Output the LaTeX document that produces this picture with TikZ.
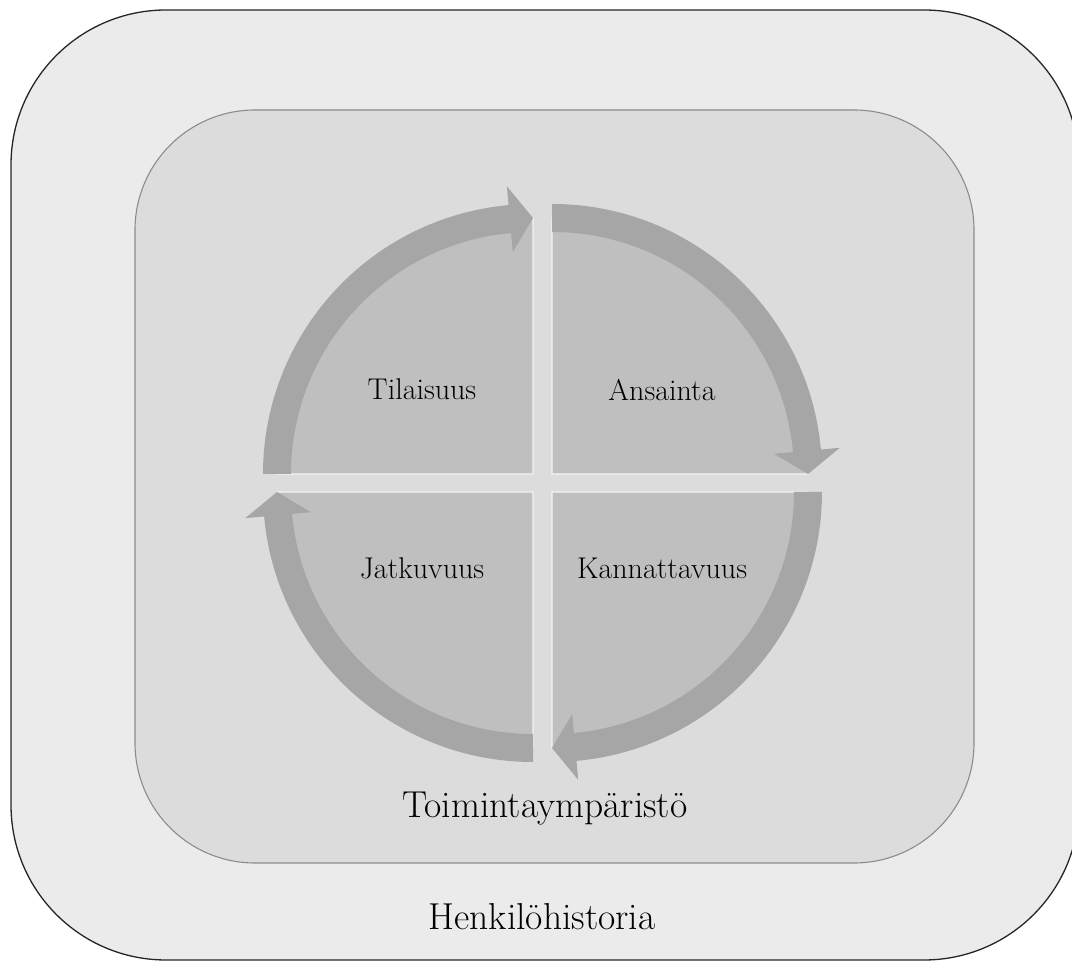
\documentclass[tikz,border=0pt]{standalone}
\definecolor{outerfill}{HTML}{EBEBEB}
\definecolor{innerfill}{HTML}{DCDCDC}
\definecolor{innerline}{HTML}{8C8C8C}
\definecolor{quadfill}{HTML}{BFBFBF}
\definecolor{quadline}{HTML}{F4F4F4}
\definecolor{bandfill}{HTML}{A6A6A6}
% curved arrow band around a quadrant: corner, start angle, tip angle, head base angle
\newcommand{\cyclearrow}[4]{%
  \begin{scope}[shift={(#1)}]
    \fill[bandfill] (#2:270) arc[start angle=#2,end angle=#4,radius=270]
      -- (#4:289) -- (#3:256) -- (#4:223) -- (#4:242)
      arc[start angle=#4,end angle=#2,radius=242] -- cycle;
  \end{scope}}
\begin{document}
\begin{tikzpicture}[x=1pt,y=1pt,
  outerbox/.style={draw=black!85,line width=1.3pt,fill=outerfill,rounded corners=155pt},
  innerbox/.style={draw=innerline,line width=1.1pt,fill=innerfill,rounded corners=120pt},
  quadrant/.style={draw=quadline,line width=1.4pt,fill=quadfill},
  quadlabel/.style={font=\fontsize{30}{34}\selectfont,anchor=base,inner sep=0pt},
  framelabel/.style={font=\fontsize{37.5}{42}\selectfont,anchor=base,inner sep=0pt}]
\useasboundingbox (0,0) rectangle (1072,961);
% nested frames
\draw[outerbox] (11,1) rectangle (1079,951);
\draw[innerbox] (135,98) rectangle (974,851);
% quadrant corners
\coordinate (qTL) at (533,487);
\coordinate (qTR) at (552,487);
\coordinate (qBR) at (552,469);
\coordinate (qBL) at (533,469);
% pie quadrants
\draw[quadrant] (qTL) -- ++(180:256) arc[start angle=180,end angle=90,radius=256] -- cycle;
\draw[quadrant] (qTR) -- ++(90:256) arc[start angle=90,end angle=0,radius=256] -- cycle;
\draw[quadrant] (qBR) -- ++(0:256) arc[start angle=0,end angle=-90,radius=256] -- cycle;
\draw[quadrant] (qBL) -- ++(-90:256) arc[start angle=-90,end angle=-180,radius=256] -- cycle;
% clockwise arrows
\cyclearrow{qTL}{180}{90}{95.2}
\cyclearrow{qTR}{90}{0}{5.2}
\cyclearrow{qBR}{0}{-90}{-84.8}
\cyclearrow{qBL}{-90}{-180}{-174.8}
% labels
\node[quadlabel] (tilaisuus) at (422,561) {Tilaisuus};
\node[quadlabel] (ansainta) at (662,560) {Ansainta};
\node[quadlabel] (jatkuvuus) at (422,382) {Jatkuvuus};
\node[quadlabel] (kannattavuus) at (662,382) {Kannattavuus};
\node[framelabel] (toiminta) at (545,143) {Toimintaympäristö};
\node[framelabel] (henkilo) at (542,31) {Henkilöhistoria};
\end{tikzpicture}
\end{document}
